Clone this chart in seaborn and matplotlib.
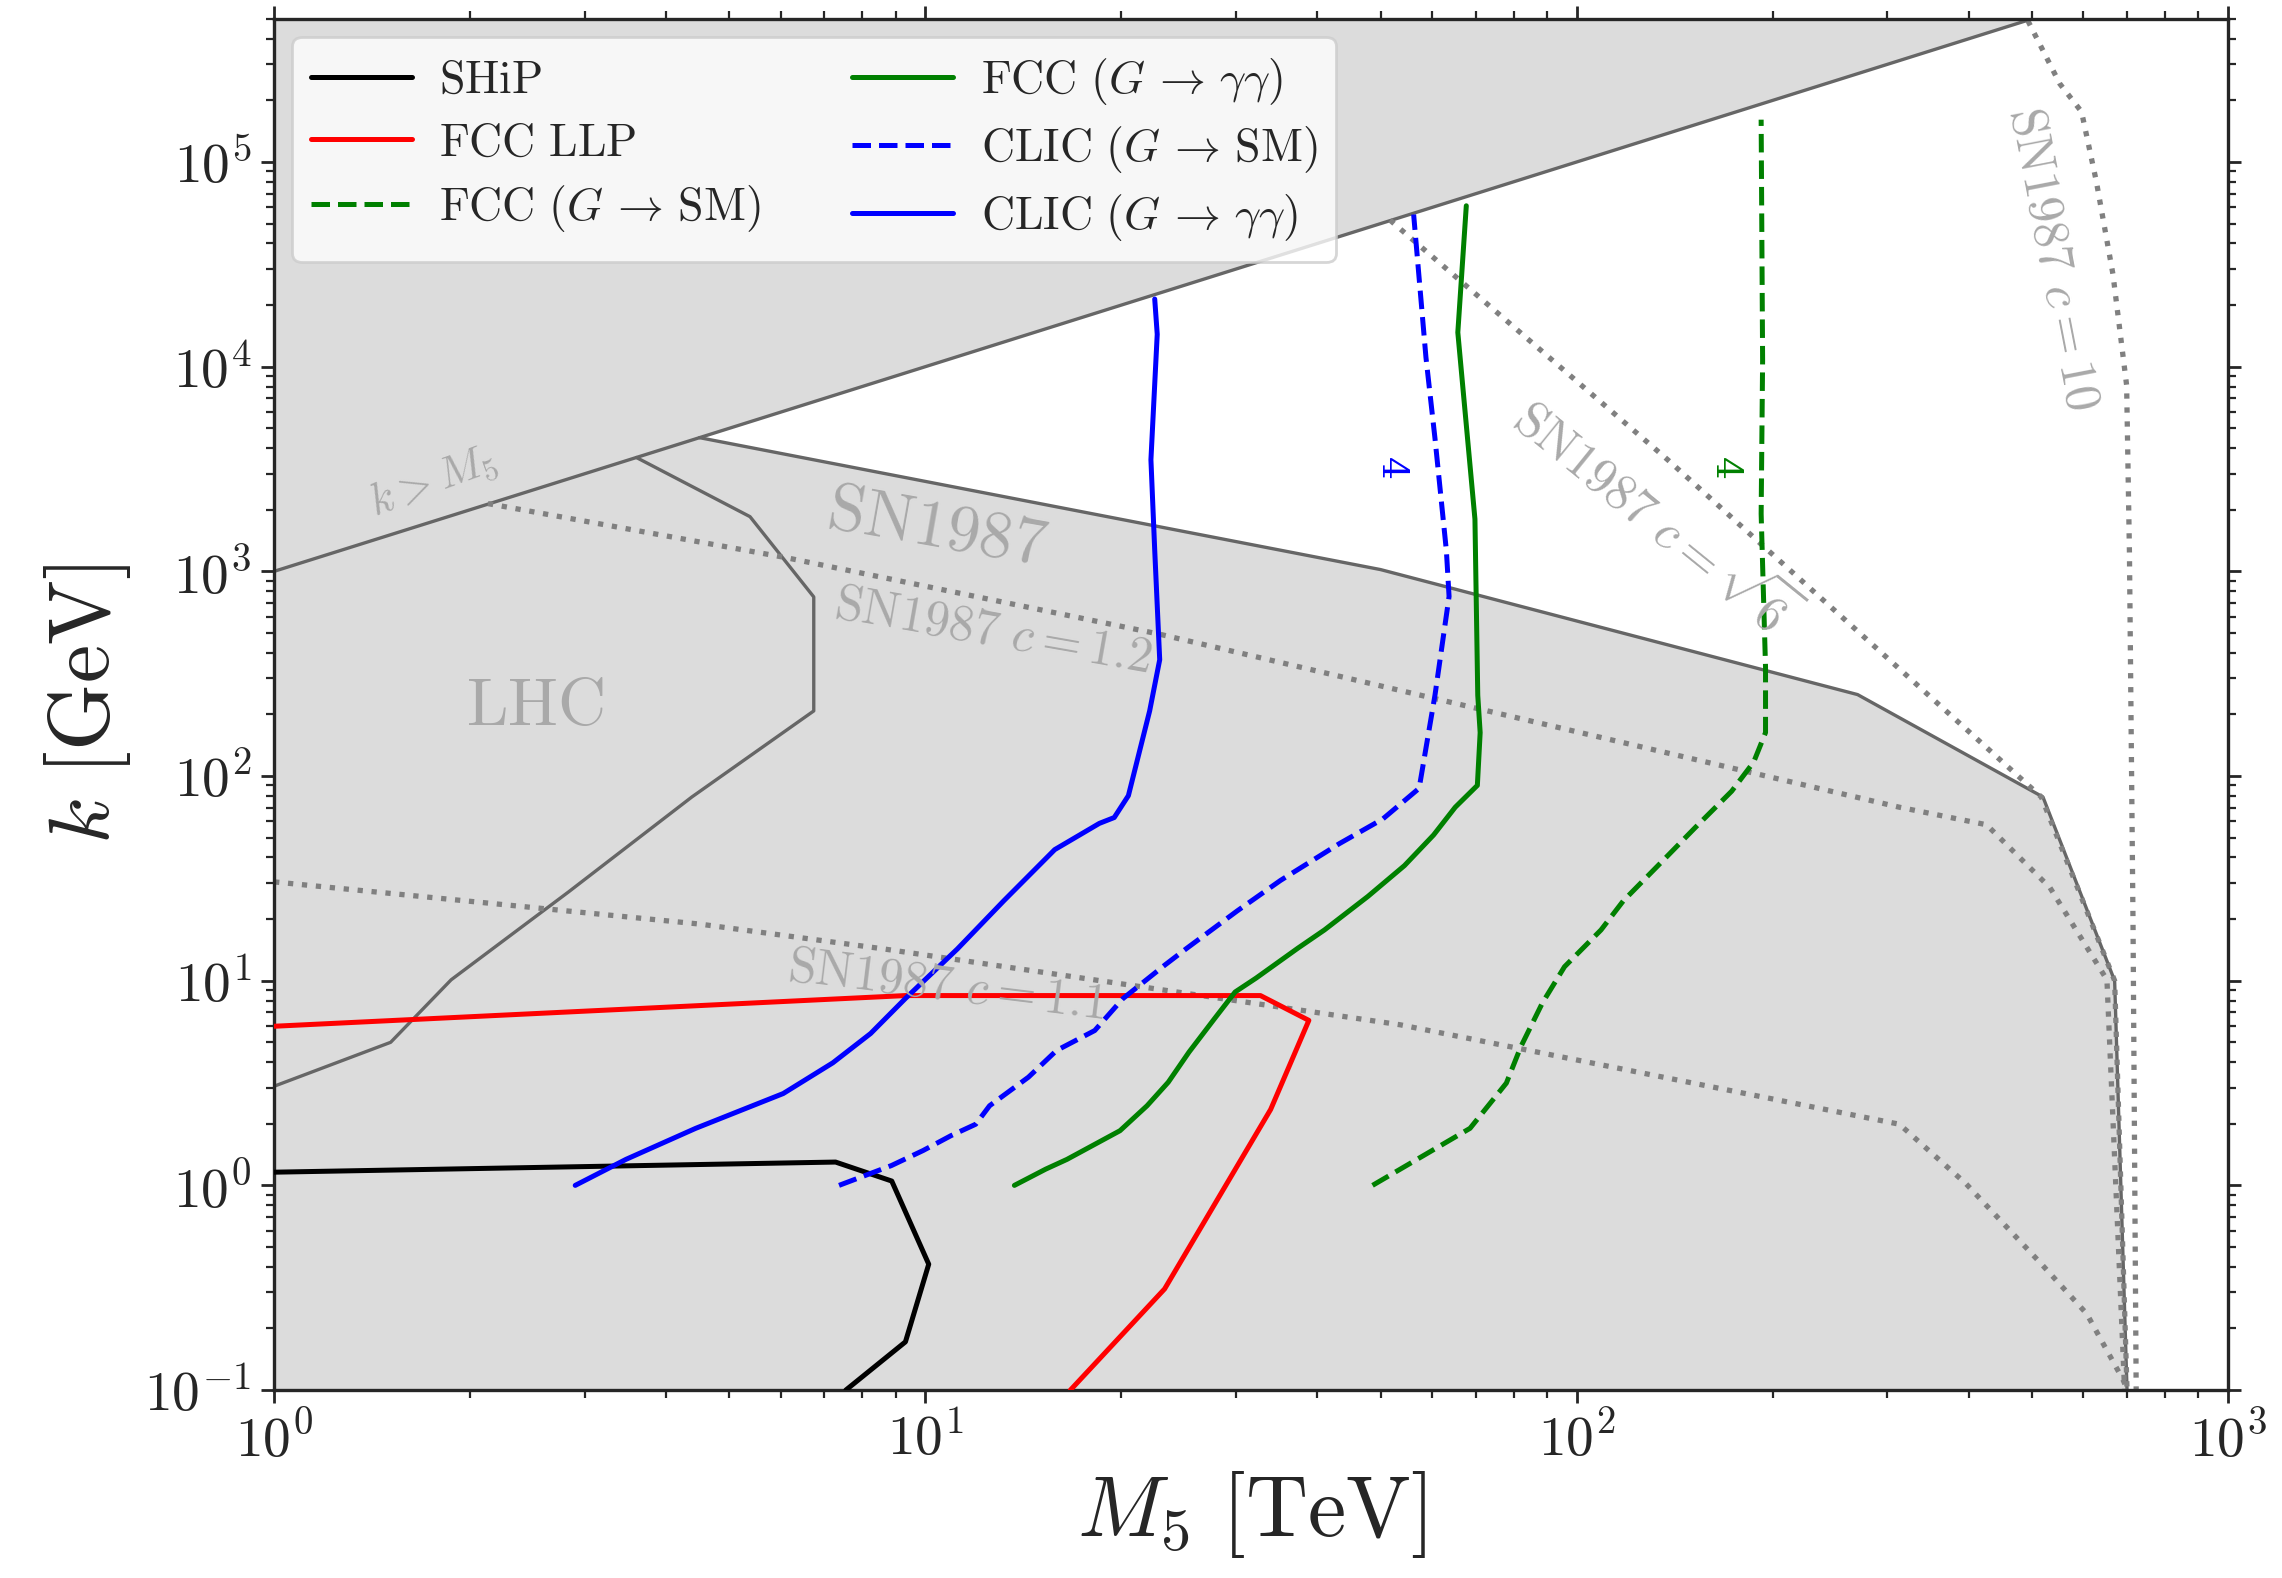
import numpy as np
import matplotlib
matplotlib.use("Agg")
import matplotlib.pyplot as plt
from matplotlib.ticker import LogLocator, FuncFormatter, NullFormatter
import seaborn as sns

# ---------------- data (M5 in TeV, k in GeV) ----------------
X_LIM = [1.0, 1000.0]
Y_LIM = [0.1, 5.0e5]

# k > M5 boundary
kM_M = [1.0, 500.0]
kM_k = [1000.0, 5.0e5]

# SN1987 excluded region boundary
sn_M = [4.5, 50.0, 270.0, 520.0, 670.0, 700.0]
sn_k = [4500.0, 1020.0, 250.0, 79.0, 10.0, 0.1]

# LHC boundary
lhc_M = [3.6, 5.38, 6.74, 6.74, 4.38, 2.83, 1.87, 1.51, 1.0]
lhc_k = [3600.0, 1850.0, 750.0, 208.0, 79.0, 27.1, 10.1, 5.0, 3.05]

# SN1987 contours for various c
c12_M = [2.13, 6.11, 22.9, 313.0, 426.0, 533.0, 652.0, 694.0]
c12_k = [2143.0, 1167.0, 493.0, 70.4, 57.8, 28.5, 10.1, 0.1]
c11_M = [1.0, 4.51, 8.63, 53.6, 313.0, 396.0, 515.0, 607.0, 690.0, 701.0]
c11_k = [30.4, 18.9, 14.3, 6.09, 1.99, 1.02, 0.419, 0.236, 0.1125, 0.1]
s6_M = [51.7, 138.0, 517.0, 670.0, 700.0]
s6_k = [5.2e4, 3508.0, 79.0, 10.0, 0.1]
c10_M = [493.0, 552.0, 596.0, 628.0, 666.0, 699.0, 706.0, 715.0, 723.0]
c10_k = [4.9e5, 2.41e5, 1.76e5, 8.04e4, 2.83e4, 8110.0, 1232.0, 18.9, 0.1]

# experiments
ship_M = [1.0, 7.28, 8.88, 10.12, 9.32, 7.55]
ship_k = [1.16, 1.30, 1.05, 0.412, 0.172, 0.1]

llp_M = [1.0, 9.32, 32.7, 38.8, 33.9, 23.3, 16.7]
llp_k = [5.99, 8.46, 8.46, 6.40, 2.35, 0.312, 0.1]

fcc_sm_M = [48.6, 68.6, 78.0, 82.1, 88.6, 95.8, 109.0, 118.0, 134.0, 152.0,
            173.0, 187.0, 195.0, 195.0, 192.0, 193.0, 192.0]
fcc_sm_k = [1.0, 1.90, 3.16, 4.76, 7.79, 11.7, 17.7, 24.6, 37.1, 55.9,
            84.3, 117.0, 163.0, 341.0, 1910.0, 1.07e4, 1.61e5]

fcc_gg_M = [13.7, 15.3, 16.5, 19.9, 21.9, 23.6, 25.4, 27.8, 29.9, 32.2, 37.3,
            41.0, 47.8, 54.4, 60.3, 65.1, 70.4, 71.1, 70.5, 69.8, 65.7, 67.7]
fcc_gg_k = [1.0, 1.20, 1.34, 1.85, 2.45, 3.19, 4.48, 6.53, 8.81, 10.3, 14.4,
            17.7, 25.8, 36.5, 51.5, 70.4, 90.0, 163.0, 248.0, 1800.0, 1.47e4, 6.11e4]

clic_sm_M = [7.37, 8.87, 9.92, 10.95, 11.95, 12.55, 14.4, 15.9, 18.2, 20.1, 23.3,
             25.2, 30.1, 35.1, 43.2, 50.4, 57.3, 60.6, 61.8, 63.7, 63.1, 60.6, 58.7, 56.2]
clic_sm_k = [1.0, 1.25, 1.48, 1.75, 1.99, 2.45, 3.38, 4.56, 5.71, 8.17, 11.9,
             14.4, 21.9, 30.9, 46.7, 61.7, 87.1, 248.0, 384.0, 754.0, 1259.0, 4470.0, 1.11e4, 5.54e4]

clic_gg_M = [2.90, 3.47, 4.44, 6.05, 7.21, 8.24, 9.32, 11.2, 13.2, 15.8, 18.5,
             19.5, 20.5, 22.1, 22.9, 22.5, 22.2, 22.7, 22.5]
clic_gg_k = [1.0, 1.34, 1.90, 2.81, 3.97, 5.52, 8.19, 14.3, 24.6, 43.7, 58.7,
             62.7, 80.2, 208.0, 370.0, 1267.0, 3510.0, 1.44e4, 2.14e4]

legend_labels = [r"$\mathrm{SHiP}$", r"$\mathrm{FCC\ LLP}$",
                 r"$\mathrm{FCC}\ (G \,\rightarrow\, \mathrm{SM})$",
                 r"$\mathrm{FCC}\ (G \,\rightarrow\, \gamma\gamma)$",
                 r"$\mathrm{CLIC}\ (G \,\rightarrow\, \mathrm{SM})$",
                 r"$\mathrm{CLIC}\ (G \,\rightarrow\, \gamma\gamma)$"]

# annotation texts: (M5, k, text, rotation, size)
annotations = [
    (1.75, 2742.0, r"$k > M_5$", 20, 16),
    (10.4, 1622.0, r"$\mathrm{SN1987}$", -10, 24),
    (12.7, 513.0, r"$\mathrm{SN1987}\ c = 1.2$", -10, 18),
    (2.52, 218.0, r"$\mathrm{LHC}$", 0, 24),
    (10.8, 9.5, r"$\mathrm{SN1987}\ c = 1.1$", -7, 18),
    (132.0, 1849.0, r"$\mathrm{SN1987}\ c = \sqrt{6}$", -39, 18),
    (539.0, 3.38e4, r"$\mathrm{SN1987}\ c = 10$", -79, 18),
]
contour_labels = [(51.9, 3178.0, "4", "blue"), (169.0, 3178.0, "4", "green")]

# ---------------- style ----------------
sns.set_style("ticks")
plt.rcParams.update({
    "mathtext.fontset": "cm",
    "font.family": ["DejaVu Serif"],
    "axes.linewidth": 1.2,
    "xtick.major.width": 1.0, "ytick.major.width": 1.0,
    "xtick.minor.width": 0.8, "ytick.minor.width": 0.8,
    "xtick.major.size": 4.8, "ytick.major.size": 4.8,
    "xtick.minor.size": 2.8, "ytick.minor.size": 2.8,
})

REGION = "#dcdcdc"
EDGE = "#666666"
DOT = "#808080"
TXT = "#a9a9a9"

fig = plt.figure(figsize=(11.41, 7.89), dpi=200)
ax = fig.add_axes([0.1201, 0.1191, 0.8562, 0.8689])
ax.set_xscale("log")
ax.set_yscale("log")

# shaded regions
ax.fill([X_LIM[0], kM_M[-1], X_LIM[0]], [kM_k[0], kM_k[-1], Y_LIM[1]],
        color=REGION, lw=0, zorder=0)
ax.fill([X_LIM[0], X_LIM[0]] + sn_M, [Y_LIM[0], kM_k[0]] + sn_k,
        color=REGION, lw=0, zorder=0)


def draw(M, k, **kw):
    sns.lineplot(x=M, y=k, sort=False, estimator=None, ax=ax, legend=False, **kw)
    return ax.lines[-1]


draw(kM_M, kM_k, color=EDGE, lw=1.2, zorder=1)
draw(sn_M, sn_k, color=EDGE, lw=1.2, zorder=1)
draw(lhc_M, lhc_k, color=EDGE, lw=1.2, zorder=1)

for M, k in [(c12_M, c12_k), (c11_M, c11_k), (s6_M, s6_k), (c10_M, c10_k)]:
    draw(M, k, color=DOT, lw=1.9, linestyle=":", zorder=2)

h_ship = draw(ship_M, ship_k, color="black", lw=1.8, zorder=3)
h_llp = draw(llp_M, llp_k, color="red", lw=1.8, zorder=3)
h_fsm = draw(fcc_sm_M, fcc_sm_k, color="green", lw=1.8, linestyle="--", zorder=3)
h_fgg = draw(fcc_gg_M, fcc_gg_k, color="green", lw=1.8, zorder=3)
h_csm = draw(clic_sm_M, clic_sm_k, color="blue", lw=1.8, linestyle="--", zorder=3)
h_cgg = draw(clic_gg_M, clic_gg_k, color="blue", lw=1.8, zorder=3)

for M, k, t, rot, fs in annotations:
    ax.text(M, k, t, rotation=rot, color=TXT, fontsize=fs, ha="center",
            va="center", rotation_mode="anchor", zorder=4)
for M, k, t, c in contour_labels:
    ax.text(M, k, t, rotation=-90, color=c, fontsize=13, ha="center",
            va="center", zorder=4)

ax.set_xlim(*X_LIM)
ax.set_ylim(*Y_LIM)

fmt = FuncFormatter(lambda v, p: r"$10^{%d}$" % int(round(np.log10(v))))
for axis in (ax.xaxis, ax.yaxis):
    axis.set_major_locator(LogLocator(base=10, numticks=20))
    axis.set_minor_locator(LogLocator(base=10, subs=np.arange(2, 10), numticks=100))
    axis.set_major_formatter(fmt)
    axis.set_minor_formatter(NullFormatter())
ax.tick_params(which="both", direction="out", top=True, right=True, labelsize=20)

ax.set_xlabel(r"$M_5\ [\mathrm{TeV}]$", fontsize=31, labelpad=0)
ax.set_ylabel(r"$k\ [\mathrm{GeV}]$", fontsize=31, labelpad=4)

ax.legend([h_ship, h_llp, h_fsm, h_fgg, h_csm, h_cgg], legend_labels,
          ncol=2, loc="upper left", fontsize=16.5, handlelength=2.2,
          handletextpad=0.6, labelspacing=0.38, borderaxespad=0.4,
          columnspacing=2.0)

fig.savefig("out.png", dpi=200)
